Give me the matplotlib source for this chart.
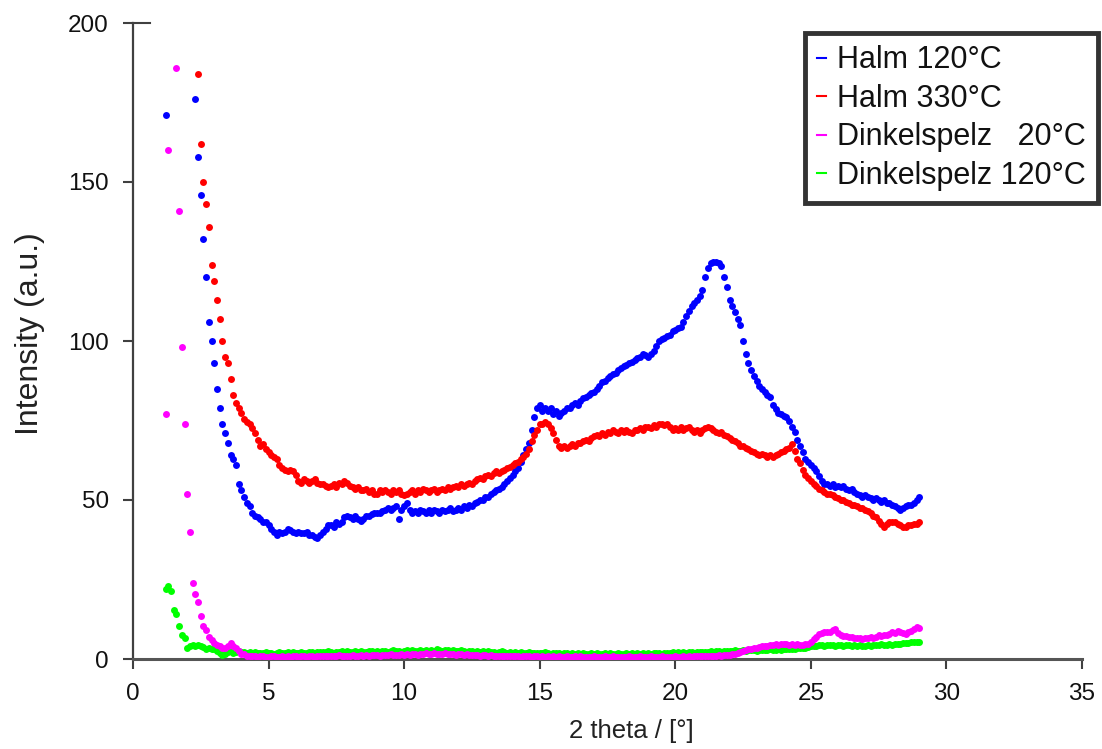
import numpy as np
import matplotlib
matplotlib.use("Agg")
import matplotlib.pyplot as plt
from matplotlib.lines import Line2D

plt.rcParams['font.family'] = ['Liberation Sans', 'DejaVu Sans']

# 2 theta grid (degrees), 1.2 ... 29.0 in 0.1 steps
two_theta = np.round(np.arange(1.2, 29.001, 0.1), 2)

halm_120 = [
    171, 215, 240, 255, 258, 252, 240, 228,
    218, 208, 203, 176, 158, 146, 132, 120, 106, 100,
    93, 85, 79, 74, 71, 68, 64, 63, 61, 55,
    53, 51, 49, 48, 46, 45, 44.5, 44, 43, 43,
    42, 41, 40, 39, 40, 39.5, 40, 41, 40.5, 40,
    39.5, 40, 39.5, 39.5, 40, 39, 39, 38.5, 38, 39,
    40, 41, 42, 42, 41.5, 43, 42.5, 43, 44.5, 45,
    44.5, 44, 45, 44, 43.5, 44, 45, 45, 45.5, 46,
    46, 46, 46.5, 47, 47.5, 47, 47.5, 48, 44, 47,
    48, 49, 47, 46, 46.5, 46, 47, 46.5, 46, 47,
    46, 47, 46.5, 46, 47, 46.5, 47, 47.5, 46.5, 47,
    47.5, 47, 48, 47.5, 48.5, 48, 49, 49.5, 50, 50,
    51, 51, 52, 52.5, 53, 53.5, 54, 55, 56, 57,
    58, 59, 60, 62, 64, 66, 68, 72, 76, 79,
    80, 78, 79, 78, 79, 77, 78, 76.5, 77.5, 78,
    79, 79, 80, 80.5, 80, 81, 82, 82.5, 83, 83.5,
    84, 85, 86, 87, 87.5, 88.5, 89, 89.5, 90, 91,
    91.5, 92, 92.5, 93, 93.5, 94, 94.5, 95, 96, 95.5,
    95, 96, 97, 98.5, 100, 100.5, 101, 101.5, 102, 103,
    103.5, 104, 104.5, 106, 108, 109.5, 111, 112, 113, 114,
    116, 120, 123, 124.5, 125, 125, 124.5, 123.5, 120, 117,
    113, 111, 109, 107, 105, 100, 96, 93, 91, 89,
    87.5, 86, 85, 84, 83, 82.5, 80, 78.5, 77.5, 77,
    76.5, 76, 75, 73, 71.5, 69, 67, 65, 63, 62,
    61, 60, 59, 57.5, 56, 55, 55, 54.5, 55, 54,
    54.5, 54, 54.5, 53.5, 53, 53.5, 52.5, 52, 51.5, 51,
    51.5, 51, 50.5, 50, 50.5, 50, 49.5, 50, 49, 49,
    48.5, 48, 47.5, 47, 47.5, 48, 48.5, 48.5, 49, 50,
    51,
]

halm_330 = [
    240, 255, 265, 270, 268, 262, 255, 245,
    235, 225, 215, 205, 184, 162, 150, 143, 136, 124,
    119, 113, 107, 100, 95, 93, 88, 83, 80.5, 79,
    77.5, 75.5, 74.5, 74, 72.5, 71, 69, 67, 67.5, 66,
    65, 64, 63.5, 63, 61, 60, 59.5, 59, 59.5, 59,
    58, 56, 55.5, 56.5, 56, 55.5, 56, 56.5, 55.5, 55,
    55, 54.5, 54, 54.5, 55, 54, 55.5, 55, 56, 55.5,
    54.5, 54, 53.5, 54, 53, 53, 53.5, 52.5, 53, 52,
    52, 53, 52.5, 53, 52.5, 52, 53, 52.5, 53, 52,
    51.5, 52, 52.5, 53, 52, 53, 52.5, 53.5, 53, 52.5,
    53, 53.5, 52.5, 53, 53.5, 53, 54, 53.5, 54, 54.5,
    54, 55, 54.5, 55, 55.5, 55, 56, 56.5, 57, 56.5,
    57.5, 58, 57.5, 58.5, 59, 58.5, 59, 59.5, 60, 60.5,
    61, 61.5, 62, 63, 63.5, 64.5, 66, 68.5, 70.5, 72,
    74, 74, 74.5, 74, 72.5, 71, 69, 67, 66.5, 67,
    66.5, 67, 67.5, 67, 68, 68, 68.5, 69, 68.5, 69.5,
    70, 70.5, 70, 71, 70.5, 71.5, 71, 72, 71.5, 71,
    72, 71.5, 72, 71.5, 71, 72, 72, 72.5, 72, 73,
    73, 72.5, 73.5, 73, 74, 74, 73.5, 74, 73, 72,
    72.5, 72, 73, 72, 72.5, 73, 72, 71.5, 72, 71,
    72, 72.5, 73, 72.5, 72, 71.5, 71, 71.5, 70.5, 70,
    69.5, 69, 68.5, 68, 67, 67, 66.5, 66, 65.5, 65,
    64.5, 64, 64.5, 64, 63.5, 64, 63.5, 64, 64.5, 65,
    65.5, 66, 66.5, 67.5, 65.5, 63, 61.5, 59.5, 58, 57,
    56, 55, 54.5, 53.5, 53, 52.5, 52, 52, 51.5, 51,
    50.5, 50, 50, 49.5, 49, 48.5, 48.5, 48, 47.5, 47.5,
    47, 46.5, 46, 45, 44.5, 43.5, 42.5, 41.5, 42.5, 43,
    43, 43, 42.5, 42, 41.5, 41.5, 42, 42, 42.5, 42.5,
    43,
]

dinkel_20 = [
    77, 160, 215, 230, 186, 141, 98, 74,
    52, 40, 24, 20.5, 18, 13.5, 10.5, 9, 7, 6,
    5, 4.5, 4, 3.5, 3.5, 4, 5, 4, 3.5, 2.5,
    1.5, 1.5, 1, 1, 0.8, 1, 0.7, 0.8, 1, 0.6,
    0.7, 0.8, 1, 0.6, 0.7, 0.8, 0.6, 0.9, 0.7, 0.8,
    0.9, 0.7, 0.8, 1, 0.7, 0.8, 0.9, 0.6, 0.8, 1,
    0.8, 0.9, 1.1, 0.8, 1, 0.9, 1.2, 0.9, 1, 1.1,
    1, 1.2, 0.9, 1.1, 1.3, 1, 1.2, 1.1, 1.3, 1.2,
    1.3, 1.1, 1.4, 1.2, 1.3, 1.5, 1.2, 1.4, 1.3, 1.5,
    1.4, 1.6, 1.3, 1.5, 1.7, 1.4, 1.6, 1.5, 1.8, 1.5,
    1.6, 1.8, 1.5, 1.7, 1.6, 1.8, 1.5, 1.7, 1.6, 1.4,
    1.6, 1.5, 1.3, 1.5, 1.4, 1.2, 1.4, 1.3, 1.1, 1.3,
    1.2, 1, 1.2, 1.1, 0.9, 1.1, 1, 0.8, 1, 0.9,
    0.8, 1, 0.9, 0.7, 0.9, 0.8, 1, 0.7, 0.9, 0.8,
    0.7, 0.9, 0.6, 0.8, 0.7, 0.9, 0.6, 0.8, 0.7, 0.6,
    0.8, 0.6, 0.7, 0.9, 0.6, 0.8, 0.7, 0.5, 0.7, 0.6,
    0.8, 0.6, 0.7, 0.5, 0.8, 0.6, 0.7, 0.9, 0.6, 0.7,
    0.5, 0.7, 0.6, 0.8, 0.6, 0.7, 0.5, 0.8, 0.6, 0.7,
    0.6, 0.8, 0.5, 0.7, 0.6, 0.8, 0.7, 0.5, 0.7, 0.6,
    0.8, 0.6, 0.7, 0.9, 0.7, 0.8, 0.6, 0.9, 0.8, 1,
    0.9, 0.8, 1, 0.9, 1.1, 1, 1.2, 1.1, 1.3, 1.2,
    1.4, 1.5, 1.5, 1.8, 2.2, 2.5, 2.8, 3, 3.3, 3.5,
    3.6, 3.8, 4, 4.2, 4.1, 4.4, 4.3, 4.6, 4.5, 4.7,
    4.8, 4.6, 4.5, 4.7, 4.4, 4.6, 4.5, 4.4, 4.6, 4.8,
    5.5, 6.2, 7, 7.8, 8.3, 8.4, 8.6, 8.5, 9, 9.3,
    8.2, 7.6, 7.3, 7.1, 7, 6.8, 6.6, 6.5, 6.6, 6.4,
    6.5, 6.6, 6.8, 6.7, 7, 7.4, 7.2, 7.6, 7.5, 7.9,
    8.5, 8.2, 8.8, 8.5, 8.3, 8, 8.4, 8.9, 9.5, 10,
    9.8,
]

dinkel_120 = [
    22, 23, 21.5, 15.5, 14, 10.5, 7.5, 6.5,
    3.5, 4, 4.5, 4.2, 4.4, 4, 3.8, 3.3, 3.5, 3,
    3.2, 2.5, 2, 1.3, 1.6, 2.2, 2.5, 2, 2.2, 2.4,
    2.3, 2.1, 2, 2.2, 1.9, 2.1, 1.8, 2, 1.9, 2.1,
    1.8, 2, 1.7, 1.9, 2.1, 1.8, 2, 2.2, 1.9, 2.1,
    2, 1.8, 2.2, 2, 1.9, 2.1, 2.3, 2, 2.2, 2.1,
    2.3, 2.1, 2.4, 2.2, 2, 2.3, 2.1, 2.4, 2.2, 2.5,
    2.3, 2.1, 2.4, 2.2, 2.5, 2.3, 2.1, 2.4, 2.6, 2.3,
    2.5, 2.3, 2.6, 2.4, 2.2, 2.5, 2.7, 2.4, 2.6, 2.3,
    2.5, 2.7, 2.4, 2.8, 2.5, 2.6, 2.9, 2.5, 2.7, 2.6,
    2.8, 2.5, 3, 2.7, 2.6, 2.9, 2.7, 2.5, 2.8, 2.6,
    2.4, 2.7, 2.5, 2.3, 2.6, 2.4, 2.2, 2.5, 2.3, 2.4,
    2.2, 2.4, 2.1, 2.3, 2, 2.2, 2.4, 2.1, 2, 2.2,
    2, 2.2, 1.9, 2.1, 2, 1.8, 2.1, 1.9, 2, 1.8,
    2, 1.8, 2.1, 1.9, 1.7, 2, 1.8, 1.9, 1.7, 2,
    1.8, 1.6, 1.9, 1.7, 1.8, 1.6, 1.9, 1.7, 1.5, 1.8,
    1.6, 1.8, 1.7, 1.5, 1.8, 1.6, 1.9, 1.7, 1.6, 1.8,
    1.7, 1.5, 1.8, 1.6, 1.9, 1.7, 1.8, 1.6, 1.9, 1.7,
    1.8, 1.6, 1.9, 1.8, 2, 1.7, 1.9, 2, 1.8, 2.1,
    1.9, 2.1, 2, 2.2, 1.9, 2.1, 2.3, 2, 2.2, 2.3,
    2.1, 2.3, 2.2, 2.4, 2.3, 2.5, 2.4, 2.2, 2.5, 2.4,
    2.6, 2.4, 2.7, 2.5, 2.6, 2.8, 2.6, 2.7, 2.9, 2.7,
    2.6, 2.8, 2.7, 2.9, 2.8, 3, 2.9, 2.8, 3.1, 2.9,
    3, 3.2, 3.1, 3.3, 3.2, 3.4, 3.5, 3.6, 3.5, 3.8,
    4, 4.2, 4.1, 4.3, 4.4, 4.2, 4.5, 4.3, 4.4, 4.2,
    4.3, 4.5, 4.2, 4.4, 4.3, 4.1, 4.4, 4.2, 4.3, 4.1,
    4.2, 4.4, 4.1, 4.3, 4.5, 4.4, 4.6, 4.4, 4.5, 4.7,
    4.5, 4.6, 4.8, 4.7, 4.9, 5, 5.1, 5.2, 5.4, 5.5,
    5.4,
]

series_labels = ["Halm 120°C", "Halm 330°C", "Dinkelspelz   20°C", "Dinkelspelz 120°C"]
series_colors = ["#0000FF", "#FF0000", "#FF00FF", "#00FF00"]
series_values = [halm_120, halm_330, dinkel_20, dinkel_120]

x_ticks = [0, 5, 10, 15, 20, 25, 30, 35]
y_ticks = [0, 50, 100, 150, 200]

fig = plt.figure(figsize=(11.02, 7.49), dpi=100)
ax = fig.add_axes([133 / 1102, 1 - 659 / 749, 949 / 1102, 636 / 749])

draw_order = [0, 1, 3, 2]
for i in draw_order:
    ax.plot(two_theta, series_values[i], 'o', ms=5.0, mec='none',
            color=series_colors[i], zorder=3)

ax.set_xlim(0, 35)
ax.set_ylim(0, 200)
ax.set_xticks(x_ticks)
ax.set_yticks(y_ticks)

for s in ['top', 'right']:
    ax.spines[s].set_visible(False)
ax.spines['left'].set_color('#404040')
ax.spines['left'].set_linewidth(1.6)
ax.spines['bottom'].set_color('#555555')
ax.spines['bottom'].set_linewidth(2.2)

ax.tick_params(axis='both', direction='out', length=7.5, width=1.5,
               color='#404040', labelsize=17.5, labelcolor='#111111')
ax.tick_params(axis='x', pad=10)
ax.tick_params(axis='y', pad=10)

# inward cap at the top of the y axis
cap = Line2D([0, 17 / 949], [200, 200], transform=ax.get_yaxis_transform(),
             color='#404040', lw=1.5, clip_on=False)
ax.add_line(cap)

ax.set_xlabel("2 theta / [°]", fontsize=18.5, color='#222222')
ax.xaxis.set_label_coords(0.525, -0.094)
ax.set_ylabel("Intensity (a.u.)", fontsize=23, color='#222222')
ax.yaxis.set_label_coords(-0.093, 0.511)

handles = [Line2D([0], [0], color=c, lw=1.5) for c in series_colors]
leg = ax.legend(handles, series_labels, loc='upper right',
                bbox_to_anchor=(1098 / 1102, 1 - 33 / 749),
                bbox_transform=fig.transFigure, borderaxespad=0,
                fontsize=22, handlelength=0.3, handletextpad=0.35,
                labelspacing=0.28, borderpad=0.4, frameon=True,
                fancybox=False)
leg.get_frame().set_edgecolor('black')
leg.get_frame().set_linewidth(3.5)
for t in leg.get_texts():
    t.set_color('#111111')

fig.savefig("out.png", dpi=100)
